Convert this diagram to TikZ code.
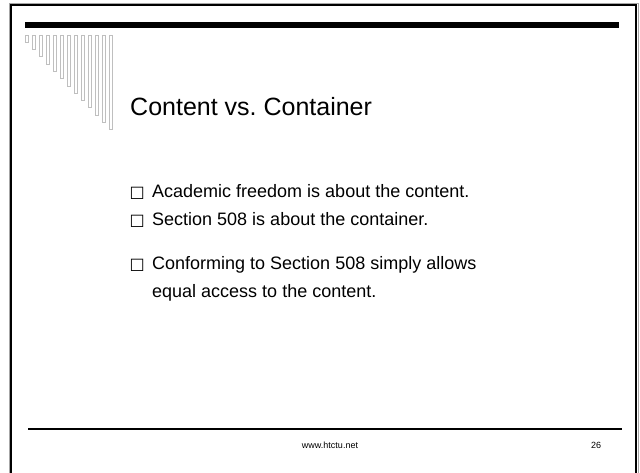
\documentclass[tikz,border=0pt]{standalone}
\usepackage{fontspec}
\setmainfont{Liberation Sans}
\newfontfamily\boxfont{DejaVu Sans}
\usetikzlibrary{positioning}
\frenchspacing

\begin{document}
\begin{tikzpicture}[x=1pt, y=-1pt,
node distance = 28pt and 7pt,
   item/.style = {inner sep=0pt, font=\fontsize{18}{28}\selectfont, align=left},
boxmark/.style = {inner sep=0pt, font=\boxfont\fontsize{16}{16}\selectfont},
   foot/.style = {inner sep=0pt, font=\fontsize{9}{11}\selectfont},
 stripe/.style = {draw=black!25, line width=0.6pt}
                    ]
\useasboundingbox (0,0) rectangle (640,472);
% slide frame and rules
\draw[black!35, line width=1pt] (9,3) rectangle (638,490);
\draw[line width=2pt] (11,5) rectangle (636,490);
\fill (25,22) rectangle (619,28);
\draw[line width=1.2pt] (28,429) -- (622,429);
% stripes under the top bar
\foreach \i in {0,...,12}
  \draw[stripe] (25.5+7*\i,35) rectangle (28.5+7*\i,42+7.3*\i);

\node (title) [anchor=base west, inner sep=0pt, font=\fontsize{25}{30}\selectfont] at (130,115) {Content vs. Container};

\node (item1) [item, anchor=base west] at (152,197) {Academic freedom is about the content.};
\node (item2) [item, below=of item1.base west, anchor=base west] {Section 508 is about the container.};
\node (item3) [item, below=44pt of item2.base west, anchor=base west]
  {\vtop{\hbox{Conforming to Section 508 simply allows}\hbox{equal access to the content.}}};

\node (box1) [boxmark, left=of item1.base west, anchor=base east] {□};
\node (box2) [boxmark, left=of item2.base west, anchor=base east] {□};
\node (box3) [boxmark, left=of item3.base west, anchor=base east] {□};

\node (url)  [foot] at (330,445) {www.htctu.net};
\node (page) [foot] at (596,445) {26};
\end{tikzpicture}
\end{document}
